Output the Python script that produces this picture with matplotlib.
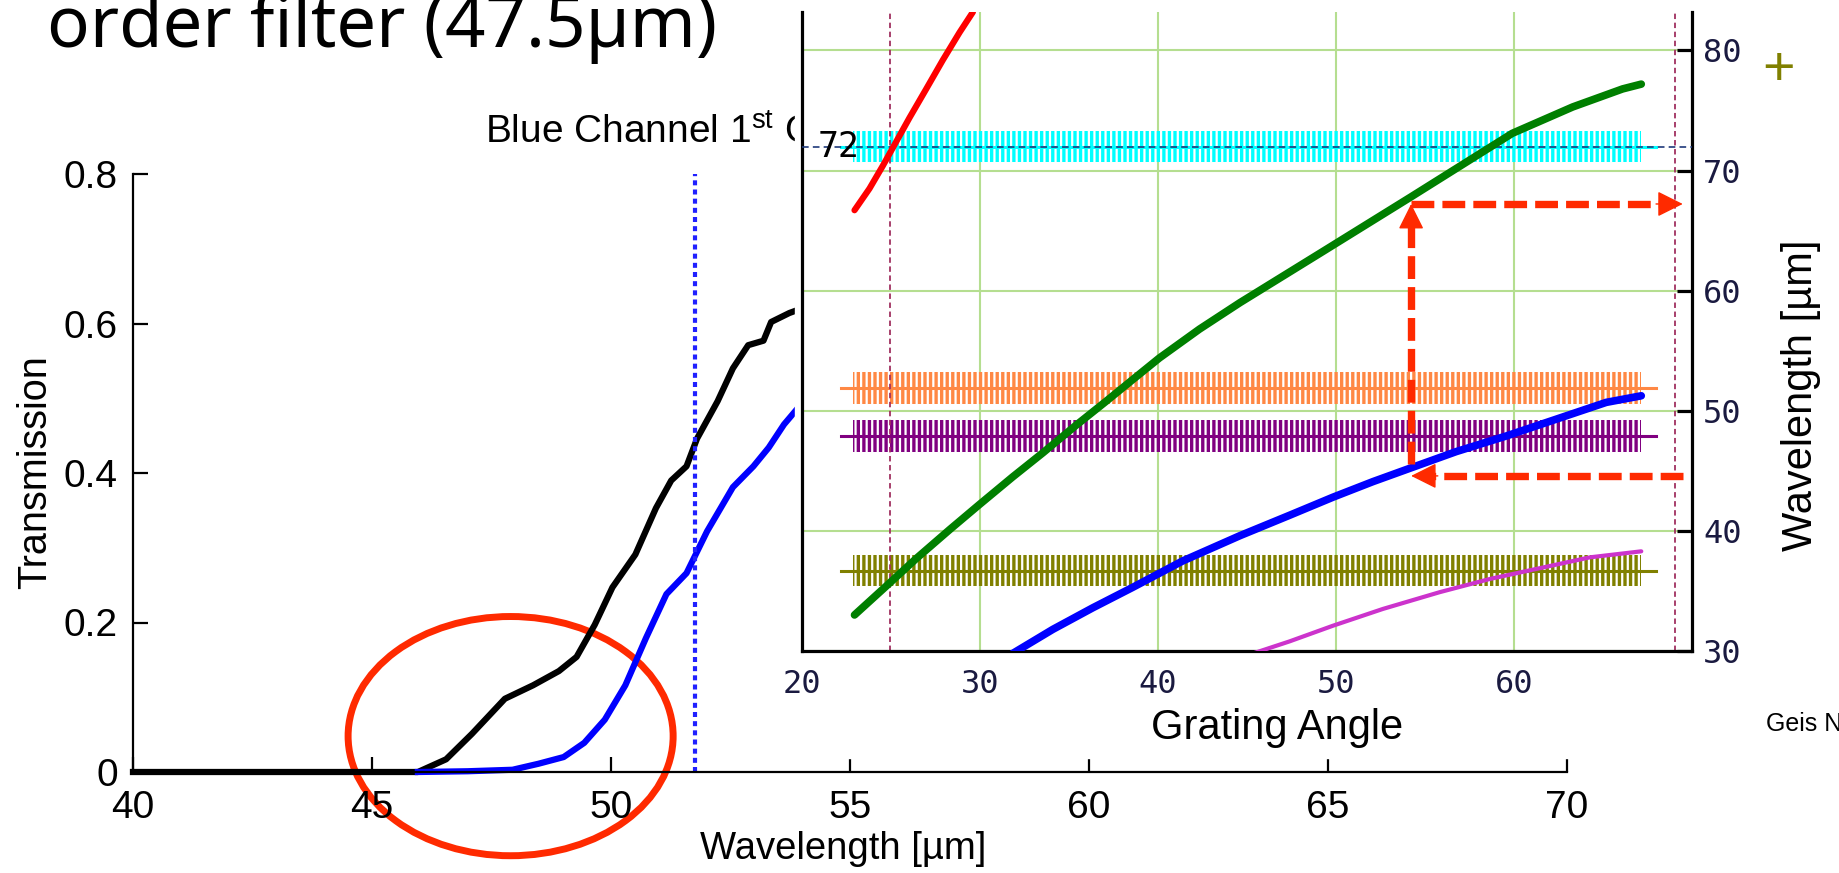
import matplotlib
matplotlib.use("Agg")
import matplotlib.pyplot as plt
from matplotlib.patches import Ellipse, Rectangle

plt.rcParams["font.family"] = ["Liberation Sans", "DejaVu Sans"]
plt.rcParams["mathtext.fontset"] = "custom"
plt.rcParams["mathtext.rm"] = "Liberation Sans"
plt.rcParams["hatch.linewidth"] = 2.4

# background plot: filter transmission vs wavelength
wl_black = [40.0, 45.96, 46.55, 47.09, 47.78, 48.37, 48.91, 49.28, 49.66, 50.03, 50.51,
            50.94, 51.26, 51.58, 51.80, 52.23, 52.55, 52.87, 53.19, 53.35, 53.73, 54.03]
tr_black = [0, 0, 0.017, 0.051, 0.098, 0.116, 0.135, 0.154, 0.197, 0.247, 0.291,
            0.353, 0.390, 0.409, 0.446, 0.496, 0.540, 0.571, 0.577, 0.602, 0.614, 0.621]
wl_blue = [45.96, 47.0, 47.94, 48.48, 49.01, 49.44, 49.87, 50.30, 50.73, 51.16, 51.58,
           52.01, 52.55, 52.98, 53.30, 53.62, 54.03]
tr_blue = [0, 0.001, 0.003, 0.011, 0.020, 0.039, 0.070, 0.116, 0.179, 0.238, 0.266,
           0.322, 0.381, 0.409, 0.434, 0.465, 0.496]
cut_on = 51.75
trans_ticks = [0, 0.2, 0.4, 0.6, 0.8]
trans_labels = ["0", "0.2", "0.4", "0.6", "0.8"]
wl_ticks = [40, 45, 50, 55, 60, 65, 70]

# inset: wavelength vs grating angle for each order
red_ang = [22.95, 23.79, 24.54, 25.29, 26.04, 26.98, 27.91, 28.85, 29.6]
red_wl = [66.7, 68.5, 70.4, 72.4, 74.4, 76.8, 79.2, 81.5, 83.2]
green_ang = [22.95, 24.73, 26.42, 28.29, 29.97, 31.84, 33.53, 35.4, 37.09, 38.58, 40.08,
             42.33, 44.6, 49.3, 54.2, 59.9, 63.3, 66.1, 67.15]
green_wl = [33.0, 35.4, 37.7, 40.1, 42.2, 44.5, 46.5, 48.8, 50.8, 52.6, 54.4,
            56.8, 59.0, 63.3, 67.8, 73.1, 75.3, 76.8, 77.2]
blue_ang = [31.84, 34.09, 36.34, 38.58, 41.39, 44.6, 47.39, 49.82, 52.07, 54.31, 56.75,
            59.56, 62.37, 65.18, 67.15]
blue_wl = [29.8, 31.8, 33.6, 35.3, 37.5, 39.6, 41.3, 42.8, 44.1, 45.3, 46.6,
           47.9, 49.3, 50.7, 51.25]
mag_ang = [45.14, 47.39, 49.82, 52.63, 55.83, 58.65, 61.46, 64.27, 67.15]
mag_wl = [29.7, 30.8, 32.1, 33.5, 34.9, 36.0, 36.9, 37.8, 38.3]

band_wl = [72.0, 51.9, 47.9, 36.7]
band_colors = ["#00ffff", "#ff8844", "#800080", "#808000"]
band_start, band_end = 22.85, 67.15
line_start, line_end = 22.2, 68.0
band_half = 1.3
limit_angles = [24.92, 69.02]

angle_ticks = [20, 30, 40, 50, 60]
inset_wl_ticks = [30, 40, 50, 60, 70, 80]

# arrow path
arrow_angle = 54.22
arrow_low = 44.58
arrow_high = 67.22
arrow_right = 69.48

W, H = 1840, 873
fig = plt.figure(figsize=(W / 100, H / 100), dpi=100)

# ---- background plot
ax = fig.add_axes([133 / W, 1 - 772 / H, 1434 / W, 598 / H])
ax.plot(wl_black, tr_black, color="black", lw=4.5, clip_on=False)
ax.plot(wl_blue, tr_blue, color="#0000ff", lw=4.5, clip_on=False)
ax.axvline(cut_on, color="#2020ff", lw=3, ls=(0, (1.2, 1.0)))
ax.set_xlim(40, 70)
ax.set_ylim(0, 0.8)
ax.spines[["top", "right"]].set_visible(False)
ax.spines[["left", "bottom"]].set_linewidth(1.6)
ax.set_xticks(wl_ticks)
ax.set_yticks(trans_ticks, labels=trans_labels)
ax.tick_params(direction="in", length=11, width=1.6, labelsize=28)
ax.tick_params(axis="x", pad=13)
ax.tick_params(axis="y", pad=11)

ax.add_patch(Ellipse((47.9, 0.048), 6.8, 0.32, fill=False, ec="#ff2a00", lw=5,
                     clip_on=False))
ax.text(485 / W, 1 - 133 / H, "Blue Channel 1$^{\\mathrm{st}}$ O",
        transform=fig.transFigure, fontsize=28, va="center")

fig.text(35 / W, 1 - 472 / H, "Transmission", fontsize=28.5, rotation=90,
         ha="center", va="center")
fig.text(843 / W, 1 - 849 / H, "Wavelength [µm]", fontsize=27.5, ha="center",
         va="center")
fig.text(47 / W, 1 - 47 / H, "order filter (47.5µm)", fontsize=51,
         family=["Noto Sans", "DejaVu Sans"], va="baseline")

# white cover where the inset picture sits
fig.add_artist(Rectangle((795 / W, 1 - 758 / H), (W - 795) / W, 758 / H,
                         transform=fig.transFigure, color="white", zorder=1))

# ---- inset plot
ins = fig.add_axes([802 / W, 1 - 651 / H, 890 / W, 639.3 / H], zorder=2)
ins.set_xlim(20, 70)
ins.set_ylim(30, 83.23)
ins.spines["top"].set_visible(False)
for s in ["left", "bottom", "right"]:
    ins.spines[s].set_linewidth(2.3)
ins.grid(True, color="#b5de90", lw=1.5, zorder=0)
ins.set_axisbelow(True)
ins.yaxis.tick_right()
ins.set_yticks(inset_wl_ticks)
ins.set_xticks(angle_ticks)
ins.tick_params(axis="y", right=True, left=False, direction="in", length=11, width=2.3,
                labelsize=23, pad=8, labelcolor="#1a1a40",
                labelfontfamily="DejaVu Sans Mono")
ins.tick_params(axis="x", length=0, labelsize=23, pad=13, labelcolor="#1a1a40",
                labelfontfamily="DejaVu Sans Mono")

ins.axhline(band_wl[0], color="#1f3a7a", lw=1.2, ls=(0, (4, 2.5)), zorder=2.6)
for wl, col in zip(band_wl, band_colors):
    ins.add_patch(Rectangle((band_start, wl - band_half), band_end - band_start,
                            2 * band_half, fill=False, hatch="|||", edgecolor=col,
                            lw=0, zorder=2))
    ins.plot([line_start, line_end], [wl, wl], color=col, lw=2.2, zorder=2.1)

for a in limit_angles:
    ins.axvline(a, color="#a03060", lw=1.3, ls=(0, (3, 2)), zorder=2.5)

ins.plot(green_ang, green_wl, color="#007f00", lw=5.5, zorder=3, solid_capstyle="round")
ins.plot(blue_ang, blue_wl, color="#0000ff", lw=5.5, zorder=3, solid_capstyle="round")
ins.plot(red_ang, red_wl, color="#ff0000", lw=4.5, zorder=3, solid_capstyle="round")
ins.plot(mag_ang, mag_wl, color="#cc33cc", lw=3, zorder=3, solid_capstyle="round")

ins.text(22.05, band_wl[0], "72", fontsize=25, ha="center", va="center",
         color="black", family=["Liberation Sans Narrow", "DejaVu Sans Mono"],
         zorder=4)

red = "#ff2a00"
dash = (0, (3.1, 1.1))
head = dict(arrowstyle="-|>", mutation_scale=40, color=red, lw=1, shrinkA=0, shrinkB=0)
ins.plot([arrow_right, arrow_angle + 1.2], [arrow_low, arrow_low], color=red, lw=5.3,
         ls=dash, zorder=5)
ins.annotate("", xy=(arrow_angle, arrow_low), xytext=(arrow_angle + 1.5, arrow_low),
             arrowprops=head, zorder=5)
ins.plot([arrow_angle, arrow_angle], [arrow_low + 1.0, arrow_high - 1.5], color=red,
         lw=5.3, ls=dash, zorder=5)
ins.annotate("", xy=(arrow_angle, arrow_high), xytext=(arrow_angle, arrow_high - 1.8),
             arrowprops=head, zorder=5)
ins.plot([arrow_angle, arrow_right - 1.2], [arrow_high, arrow_high], color=red, lw=5.3,
         ls=dash, zorder=5)
ins.annotate("", xy=(arrow_right, arrow_high), xytext=(arrow_right - 1.5, arrow_high),
             arrowprops=head, zorder=5)

fig.text(1277 / W, 1 - 728 / H, "Grating Angle", fontsize=30, ha="center", va="center")
fig.text(1801 / W, 1 - 395 / H, "Wavelength [µm]", fontsize=30, rotation=90,
         ha="center", va="center")
fig.text(1779 / W, 1 - 71 / H, "+", fontsize=40, color="#808000", ha="center",
         va="center")
fig.text(1766 / W, 1 - 724 / H, "Geis N", fontsize=18, va="center")

fig.savefig("out.png", dpi=100)
